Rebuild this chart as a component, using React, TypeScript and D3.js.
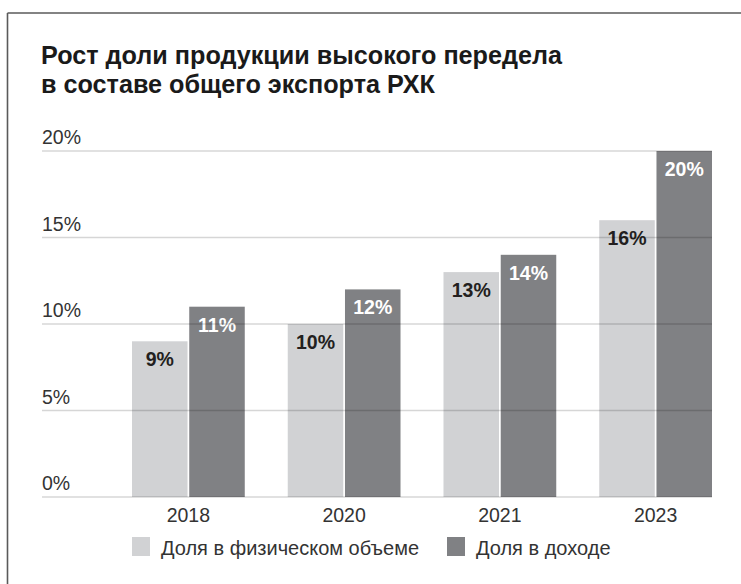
import React from "react";
import * as d3 from "d3";

const years = ["2018", "2020", "2021", "2023"];
const volumeShare = [9, 10, 13, 16];
const incomeShare = [11, 12, 14, 20];
const yTicks = [0, 5, 10, 15, 20];
const seriesNames = ["Доля в физическом объеме", "Доля в доходе"];
const titleLines = ["Рост доли продукции высокого передела", "в составе общего экспорта РХК"];

const W = 741;
const H = 584;
const LIGHT = "#d1d2d4";
const DARK = "#808184";
const FONT = "'Liberation Sans', Arial, Helvetica, sans-serif";

export default function App() {
  const y = d3.scaleLinear().domain([0, 20]).range([497, 151]);
  const x = d3.scaleBand().domain(years).range([132, 712]).paddingInner(0.276).paddingOuter(0);
  const sub = d3.scaleBand().domain(["v", "i"]).range([0, x.bandwidth()]).paddingInner(0.03);
  const series = [
    { key: "v", values: volumeShare, color: LIGHT, text: "#231f20" },
    { key: "i", values: incomeShare, color: DARK, text: "#ffffff" },
  ];
  return (
    <svg
      width={W}
      height={H}
      style={{ position: "absolute", left: 0, top: 0, display: "block", background: "#fff" }}
      fontFamily={FONT}
    >
      <rect x={0} y={0} width={W} height={H} fill="#fff" />
      <line x1={7.5} y1={13} x2={W} y2={13} stroke="#5a5a5a" strokeWidth={1.6} />
      <line x1={7.5} y1={13} x2={7.5} y2={H} stroke="#5a5a5a" strokeWidth={1.6} />
      {titleLines.map((t, i) => (
        <text key={i} x={41} y={64 + i * 28.5} fontSize={25.2} fontWeight={700} fill="#1a1a1a">
          {t}
        </text>
      ))}
      {series.map((s) =>
        years.map((yr, i) => {
          const bx = (x(yr) as number) + (sub(s.key) as number);
          const top = y(s.values[i]);
          return (
            <g key={s.key + yr}>
              <rect x={bx} y={top} width={sub.bandwidth()} height={y(0) - top} fill={s.color} />
              <text
                x={bx + sub.bandwidth() / 2}
                y={top + 25}
                textAnchor="middle"
                fontSize={19.5}
                fontWeight={700}
                fill={s.text}
              >
                {s.values[i] + "%"}
              </text>
            </g>
          );
        })
      )}
      {yTicks.map((t) => (
        <g key={t}>
          <line x1={42} x2={712} y1={y(t)} y2={y(t)} stroke="#000" strokeOpacity={0.16} strokeWidth={1.6} />
          <text x={42} y={y(t) - 7} fontSize={19.5} fill="#333">
            {t + "%"}
          </text>
        </g>
      ))}
      {years.map((yr) => (
        <text key={yr} x={(x(yr) as number) + x.bandwidth() / 2} y={522} textAnchor="middle" fontSize={19.5} fill="#333">
          {yr}
        </text>
      ))}
      {[
        { x: 132, color: LIGHT, label: seriesNames[0] },
        { x: 447, color: DARK, label: seriesNames[1] },
      ].map((l) => (
        <g key={l.label}>
          <rect x={l.x} y={537} width={18} height={19} fill={l.color} />
          <text x={l.x + 29} y={555} fontSize={20} fill="#333">
            {l.label}
          </text>
        </g>
      ))}
    </svg>
  );
}
